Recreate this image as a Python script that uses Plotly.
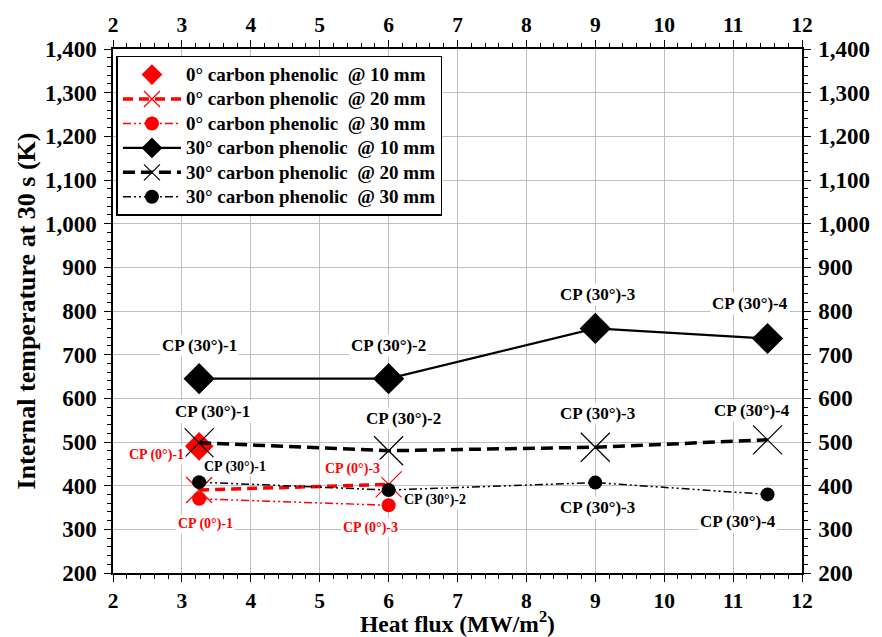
import plotly.graph_objects as go

# Data
x_0deg = [3.25, 6]
y_0_10 = [490]
y_0_20 = [390, 403]
y_0_30 = [370, 355]
x_30deg = [3.25, 6, 9, 11.5]
y_30_10 = [645, 645, 760, 737]
y_30_20 = [498, 480, 488, 505]
y_30_30 = [408, 390, 407, 380]

RED = "#ff0000"
BLK = "#000000"
FONT = "Liberation Serif"

fig = go.Figure()

fig.add_trace(go.Scatter(x=x_0deg[:1], y=y_0_10, mode="markers", name="0° carbon phenolic  @ 10 mm",
                         marker=dict(symbol="diamond", size=22, color=RED)))
fig.add_trace(go.Scatter(x=x_0deg, y=y_0_20, mode="lines+markers", name="0° carbon phenolic  @ 20 mm",
                         line=dict(color=RED, width=3.5, dash="10px,6px"),
                         marker=dict(symbol="x-thin-open", size=26, line=dict(color=RED, width=1.2), color=RED)))
fig.add_trace(go.Scatter(x=x_0deg, y=y_0_30, mode="lines+markers", name="0° carbon phenolic  @ 30 mm",
                         line=dict(color=RED, width=1.5, dash="8px,3px,2px,3px,2px,3px"),
                         marker=dict(symbol="circle", size=14, color=RED)))
fig.add_trace(go.Scatter(x=x_30deg, y=y_30_10, mode="lines+markers", name="30° carbon phenolic  @ 10 mm",
                         line=dict(color=BLK, width=2.2),
                         marker=dict(symbol="diamond", size=24, color=BLK)))
fig.add_trace(go.Scatter(x=x_30deg, y=y_30_20, mode="lines+markers", name="30° carbon phenolic  @ 20 mm",
                         line=dict(color=BLK, width=3.5, dash="12px,6px"),
                         marker=dict(symbol="x-thin-open", size=29, line=dict(color=BLK, width=1.2), color=BLK)))
fig.add_trace(go.Scatter(x=x_30deg, y=y_30_30, mode="lines+markers", name="30° carbon phenolic  @ 30 mm",
                         line=dict(color=BLK, width=1.5, dash="8px,3px,2px,3px,2px,3px"),
                         marker=dict(symbol="circle", size=14, color=BLK)))
# invisible trace for secondary axes
fig.add_trace(go.Scatter(x=[2], y=[200], xaxis="x2", yaxis="y2", mode="markers",
                         marker=dict(opacity=0), showlegend=False, hoverinfo="skip"))

annots = [
    # (x, y, text, color, size)
    (3.25, 720, "CP (30°)-1", BLK, 17),
    (6, 720, "CP (30°)-2", BLK, 17),
    (9.03, 838, "CP (30°)-3", BLK, 17),
    (11.25, 818, "CP (30°)-4", BLK, 17),
    (3.45, 569, "CP (30°)-1", BLK, 17),
    (6.22, 553, "CP (30°)-2", BLK, 17),
    (9.03, 566, "CP (30°)-3", BLK, 17),
    (11.27, 573, "CP (30°)-4", BLK, 17),
    (3.77, 443, "CP (30°)-1", BLK, 14),
    (6.67, 367, "CP (30°)-2", BLK, 14),
    (9.03, 349, "CP (30°)-3", BLK, 17),
    (11.07, 317, "CP (30°)-4", BLK, 17),
    (2.63, 470, "CP (0°)-1", RED, 14),
    (5.47, 438, "CP (0°)-3", RED, 14),
    (3.34, 312, "CP (0°)-1", RED, 14),
    (5.73, 303, "CP (0°)-3", RED, 14),
]
for ax, ay, t, c, s in annots:
    fig.add_annotation(x=ax, y=ay, text=f"<b>{t}</b>", showarrow=False,
                       font=dict(family=FONT, size=s, color=c), bgcolor="white", borderpad=1)

xtickfont = dict(family=FONT, size=21.5, color=BLK)
ytickfont = dict(family=FONT, size=23, color=BLK)
xcommon = dict(range=[2, 12], tickmode="array", tickvals=list(range(2, 13)),
               ticktext=[f"<b>{v}</b>" for v in range(2, 13)],
               ticks="outside", ticklen=7, tickwidth=1.2, tickcolor=BLK,
               minor=dict(dtick=0.2, ticks="outside", ticklen=4, tickcolor=BLK, showgrid=False),
               showline=True, linecolor=BLK, linewidth=1.5, tickfont=xtickfont, zeroline=False,
               automargin=False)
yvals = list(range(200, 1401, 100))
ycommon = dict(range=[200, 1400], tickmode="array", tickvals=yvals,
               ticktext=[f"<b>{v:,}</b>" for v in yvals],
               ticks="outside", ticklen=7, tickwidth=1.2, tickcolor=BLK,
               minor=dict(dtick=20, ticks="outside", ticklen=4, tickcolor=BLK, showgrid=False),
               showline=True, linecolor=BLK, linewidth=1.5, tickfont=ytickfont, zeroline=False,
               automargin=False, ticklabelstandoff=3)

fig.update_layout(
    width=882, height=637,
    margin=dict(l=113, r=80, t=49, b=64),
    paper_bgcolor="white", plot_bgcolor="white",
    font=dict(family=FONT, color=BLK),
    xaxis=dict(**xcommon, showgrid=True, gridcolor="#c0c0c0", gridwidth=1,
               title=dict(text="<b>Heat flux (MW/m<sup>2</sup>)</b>", font=dict(family=FONT, size=23.5), standoff=0)),
    yaxis=dict(**ycommon, showgrid=True, gridcolor="#c0c0c0", gridwidth=1,
               title=dict(text="<b>Internal temperature at 30 s (K)</b>", font=dict(family=FONT, size=26), standoff=2)),
    xaxis2=dict(**xcommon, overlaying="x", side="top", showgrid=False, anchor="y"),
    yaxis2=dict(**ycommon, overlaying="y", side="right", showgrid=False, anchor="x"),
    legend=dict(x=0.005, y=0.987, xanchor="left", yanchor="top",
                bgcolor="white", bordercolor=BLK, borderwidth=1.5,
                font=dict(family=FONT, size=16.5, color=BLK), itemwidth=58,
                tracegroupgap=0, itemsizing="trace"),
    showlegend=True,
)
for tr in fig.data[:6]:
    tr.name = f"<span style='font-size:19px'><b>{tr.name}</b></span>"

fig.write_html("out.html")
